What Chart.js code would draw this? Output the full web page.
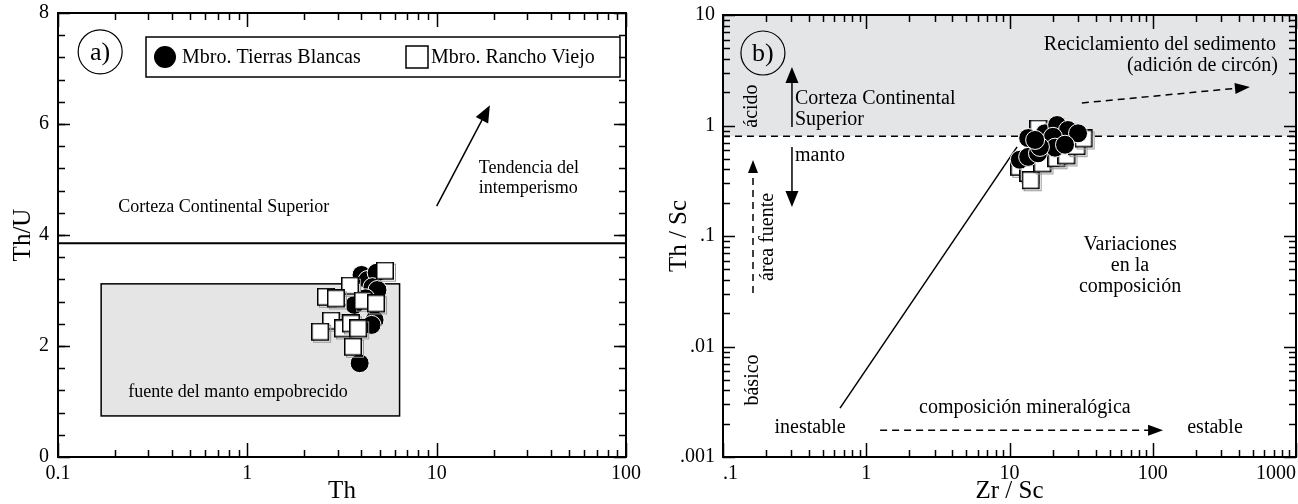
<!DOCTYPE html>
<html>
<head>
<meta charset="utf-8">
<script src="https://cdn.jsdelivr.net/npm/chart.js@4.4.1/dist/chart.umd.min.js"></script>
<style>
  html, body { margin: 0; padding: 0; background: #fff; overflow: hidden; }
  #wrap { position: relative; width: 1298px; height: 504px; }
  .panel { position: absolute; top: 0; }
  .panel canvas { display: block; }
  #pa { left: 0; }
  #pb { left: 650px; }
</style>
</head>
<body>
<div id="wrap">
  <div class="panel" id="pa"><canvas id="chartA" width="650" height="504"></canvas></div>
  <div class="panel" id="pb"><canvas id="chartB" width="648" height="504"></canvas></div>
</div>
<script>
// Chart.js comes from the CDN as a UMD global, referenced as `Chart`.
const SERIF = '"Liberation Serif", "DejaVu Serif", serif';

// ---- panel a) Th vs Th/U ----
const thTierras  = [4.01, 4.32, 4.82, 4.58, 4.87, 3.68, 4.21, 4.70, 4.53, 3.92];
const thuTierras = [3.28, 3.19, 3.32, 3.06, 3.01, 2.74, 2.86, 2.47, 2.38, 1.69];
const thRancho   = [5.43, 3.55, 2.65, 2.99, 4.16, 4.87, 2.82, 2.47, 3.26, 3.59, 3.92, 3.68];
const thuRancho  = [3.33, 3.06, 2.86, 2.83, 2.79, 2.74, 2.43, 2.23, 2.29, 2.38, 2.29, 1.96];
const thTicks    = [0.1, 1, 10, 100];
const thLabels   = ['0.1', '1', '10', '100'];
const thuTicks   = [0, 2, 4, 6, 8];
const thuLabels  = ['0', '2', '4', '6', '8'];
const uccThU     = 3.85;                       // Corteza Continental Superior
const mantleTh   = [0.169, 6.37];              // fuente del manto empobrecido
const mantleThU  = [0.74, 3.12];
const weatherTh  = [10.0, 19.1];               // tendencia del intemperismo
const weatherThU = [4.52, 6.34];

// ---- panel b) Zr/Sc vs Th/Sc ----
const zrTierras   = [13.5, 11.8, 13.5, 15.8, 17.7, 21.5, 25.6, 30.1, 20.1, 20.8, 24.4, 16.3, 15.1];
const thscTierras = [0.77, 0.49, 0.52, 0.56, 0.85, 1.01, 0.91, 0.85, 0.79, 0.63, 0.67, 0.64, 0.74];
const zrRancho    = [12.0, 13.9, 14.4, 17.4, 21.8, 25.6, 30.1, 33.7, 16.3];
const thscRancho  = [0.41, 0.36, 0.31, 0.44, 0.49, 0.52, 0.63, 0.74, 0.91];
const zrTicks     = [0.1, 1, 10, 100, 1000];
const zrLabels    = ['.1', '1', '10', '100', '1000'];
const thscTicks   = [0.001, 0.01, 0.1, 1, 10];
const thscLabels  = ['.001', '.01', '.1', '1', '10'];
const uccThSc     = 0.8;
const mixZr       = [0.656, 11.3];             // trend line from basic source
const mixThSc     = [0.00277, 0.64];

// minor ticks for log axes: 2..9 of each decade
function logMinors(majors) {
  const out = [];
  for (let i = 0; i < majors.length - 1; i++)
    for (let k = 2; k <= 9; k++) out.push(majors[i] * k);
  return out;
}
function linMinors(min, max, step) {
  const out = [];
  for (let v = min + step; v < max; v += step) out.push(+v.toFixed(4));
  return out;
}

function label(ctx, text, x, y, size = 18, align = 'left', rot = 0) {
  ctx.save();
  ctx.translate(x, y);
  if (rot) ctx.rotate(rot);
  ctx.font = `${size}px ${SERIF}`;
  ctx.textAlign = align;
  ctx.textBaseline = 'middle';
  ctx.fillStyle = '#000';
  ctx.fillText(text, 0, 0);
  ctx.restore();
}

function arrow(ctx, x0, y0, x1, y1, dashed, head = 15, w = 5.5) {
  const ang = Math.atan2(y1 - y0, x1 - x0);
  const bx = x1 - head * Math.cos(ang), by = y1 - head * Math.sin(ang);
  ctx.save();
  ctx.strokeStyle = '#000';
  ctx.fillStyle = '#000';
  ctx.lineWidth = 1.5;
  if (dashed) ctx.setLineDash([7, 5]);
  ctx.beginPath(); ctx.moveTo(x0, y0); ctx.lineTo(bx, by); ctx.stroke();
  ctx.setLineDash([]);
  ctx.beginPath();
  ctx.moveTo(x1, y1);
  ctx.lineTo(bx + w * Math.sin(ang), by - w * Math.cos(ang));
  ctx.lineTo(bx - w * Math.sin(ang), by + w * Math.cos(ang));
  ctx.closePath(); ctx.fill();
  ctx.restore();
}

function circledTag(ctx, text, cx, cy) {
  ctx.save();
  ctx.strokeStyle = '#000';
  ctx.lineWidth = 1.2;
  ctx.beginPath(); ctx.arc(cx, cy, 22, 0, Math.PI * 2); ctx.stroke();
  ctx.restore();
  label(ctx, text, cx, cy + 1, 26, 'center');
}

// open square marker with the faint grey offset edge seen in the original
function squareMarker(side) {
  const c = document.createElement('canvas');
  c.width = c.height = side + 3;
  const g = c.getContext('2d');
  g.strokeStyle = '#9a9a9a';
  g.lineWidth = 1;
  g.strokeRect(2.5, 2.5, side - 1, side - 1);
  g.fillStyle = '#fff';
  g.fillRect(0.75, 0.75, side - 1.5, side - 1.5);
  g.strokeStyle = '#000';
  g.lineWidth = 1.5;
  g.strokeRect(0.75, 0.75, side - 1.5, side - 1.5);
  return c;
}

// inward ticks on all four sides + frame
const framePlugin = {
  id: 'frame',
  afterDraw(chart, args, opts) {
    const { ctx, chartArea: a, scales: { x, y } } = chart;
    ctx.save();
    ctx.strokeStyle = '#000';
    ctx.lineWidth = 1.5;
    const xt = (v, len) => {
      const p = Math.round(x.getPixelForValue(v)) + 0.5;
      ctx.beginPath();
      ctx.moveTo(p, a.bottom); ctx.lineTo(p, a.bottom - len);
      ctx.moveTo(p, a.top); ctx.lineTo(p, a.top + len);
      ctx.stroke();
    };
    const yt = (v, len) => {
      const p = Math.round(y.getPixelForValue(v)) + 0.5;
      ctx.beginPath();
      ctx.moveTo(a.left, p); ctx.lineTo(a.left + len, p);
      ctx.moveTo(a.right, p); ctx.lineTo(a.right - len, p);
      ctx.stroke();
    };
    opts.xMajor.forEach(v => xt(v, 14));
    opts.xMinor.forEach(v => xt(v, 7));
    opts.yMajor.forEach(v => yt(v, 12));
    opts.yMinor.forEach(v => yt(v, 7));
    ctx.lineWidth = 2;
    ctx.strokeRect(a.left, a.top, a.right - a.left, a.bottom - a.top);
    ctx.restore();
  }
};

function axis(type, min, max, vals, labels, title, o) {
  return {
    type, min, max,
    grid: { display: false, drawTicks: false },
    border: { display: false },
    afterBuildTicks: s => { s.ticks = vals.map(v => ({ value: v })); },
    afterFit: s => {
      // fixed box sizes so the plot area lands where the original has it
      if (s.isHorizontal()) s.height = o.size; else s.width = o.size;
      s.paddingLeft = s.paddingRight = s.paddingTop = s.paddingBottom = 0;
    },
    ticks: {
      color: '#000', padding: o.tickPad, align: o.align || 'center',
      autoSkip: false, maxRotation: 0,
      font: { family: SERIF, size: 20 },
      callback: (v, i) => labels[i]
    },
    title: {
      display: true, text: title, color: '#000',
      padding: { top: o.titlePad, bottom: 0 },
      font: { family: SERIF, size: 25, lineHeight: 1 }
    }
  };
}

function points(xs, ys) { return xs.map((v, i) => ({ x: v, y: ys[i] })); }

const circleStyle = {
  pointStyle: 'circle', pointRadius: 9.5, pointBackgroundColor: '#000',
  pointBorderColor: '#fff', pointBorderWidth: 1, showLine: false
};
const squareStyle = {
  pointStyle: squareMarker(18), pointRadius: 9, showLine: false
};

// ---------- panel a ----------
const panelA = {
  id: 'panelA',
  beforeDatasetsDraw(chart) {
    const { ctx, chartArea: a, scales: { x, y } } = chart;
    const bx0 = x.getPixelForValue(mantleTh[0]), bx1 = x.getPixelForValue(mantleTh[1]);
    const by0 = y.getPixelForValue(mantleThU[0]), by1 = y.getPixelForValue(mantleThU[1]);
    ctx.save();
    ctx.fillStyle = '#e5e5e5';
    ctx.fillRect(bx0, by1, bx1 - bx0, by0 - by1);
    ctx.strokeStyle = '#000';
    ctx.lineWidth = 1.5;
    ctx.strokeRect(bx0, by1, bx1 - bx0, by0 - by1);
    const ly = y.getPixelForValue(uccThU);
    ctx.lineWidth = 2;
    ctx.beginPath(); ctx.moveTo(a.left, ly); ctx.lineTo(a.right, ly); ctx.stroke();
    ctx.restore();
    arrow(ctx, x.getPixelForValue(weatherTh[0]), y.getPixelForValue(weatherThU[0]),
               x.getPixelForValue(weatherTh[1]), y.getPixelForValue(weatherThU[1]), false, 17, 7);
    label(ctx, 'Corteza Continental Superior', x.getPixelForValue(0.208), y.getPixelForValue(4.50), 18);
    label(ctx, 'fuente del manto empobrecido', x.getPixelForValue(0.235), y.getPixelForValue(1.17), 18);
    label(ctx, 'Tendencia del', x.getPixelForValue(16.7), y.getPixelForValue(5.21), 18);
    label(ctx, 'intemperismo', x.getPixelForValue(16.7), y.getPixelForValue(4.85), 18);
  },
  afterDraw(chart) {
    const { ctx, chartArea: a, scales: { x, y } } = chart;
    circledTag(ctx, 'a)', x.getPixelForValue(0.167), y.getPixelForValue(7.30));
    // legend box
    const lx = a.left + 88, ly = a.top + 24, lw = a.right - 6 - lx, lh = 40;
    ctx.save();
    ctx.fillStyle = '#fff';
    ctx.fillRect(lx, ly, lw, lh);
    ctx.strokeStyle = '#000';
    ctx.lineWidth = 1.5;
    ctx.strokeRect(lx, ly, lw, lh);
    ctx.fillStyle = '#000';
    ctx.beginPath(); ctx.arc(lx + 19, ly + 20, 11, 0, Math.PI * 2); ctx.fill();
    ctx.fillStyle = '#fff';
    ctx.fillRect(lx + 260, ly + 9, 22, 22);
    ctx.strokeRect(lx + 260, ly + 9, 22, 22);
    ctx.restore();
    label(ctx, 'Mbro. Tierras Blancas', lx + 36, ly + 21, 20);
    label(ctx, 'Mbro. Rancho Viejo', lx + 285, ly + 21, 20);
  }
};

new Chart(document.getElementById('chartA'), {
  type: 'scatter',
  data: {
    datasets: [
      { label: 'Mbro. Tierras Blancas', data: points(thTierras, thuTierras), order: 2, ...circleStyle },
      { label: 'Mbro. Rancho Viejo', data: points(thRancho, thuRancho), order: 1, ...squareStyle }
    ]
  },
  options: {
    responsive: false,
    animation: false,
    layout: { autoPadding: false, padding: { left: 0, right: 24, top: 13, bottom: 0 } },
    plugins: {
      legend: { display: false },
      tooltip: { enabled: false },
      frame: {
        xMajor: thTicks, xMinor: logMinors(thTicks),
        yMajor: thuTicks, yMinor: linMinors(0, 8, 0.4)
      }
    },
    scales: {
      x: axis('logarithmic', 0.1, 100, thTicks, thLabels, 'Th', { size: 47, tickPad: 5, titlePad: 0 }),
      y: axis('linear', 0, 8, thuTicks, thuLabels, 'Th/U', { size: 58, tickPad: 9, titlePad: 11, align: 'inner' })
    }
  },
  plugins: [panelA, framePlugin]
});

// ---------- panel b ----------
const panelB = {
  id: 'panelB',
  beforeDatasetsDraw(chart) {
    const { ctx, chartArea: a, scales: { x, y } } = chart;
    const ly = y.getPixelForValue(uccThSc);
    ctx.save();
    ctx.fillStyle = '#e4e5e7';
    ctx.fillRect(a.left, a.top, a.right - a.left, ly - a.top);
    ctx.strokeStyle = '#000';
    ctx.lineWidth = 1.5;
    ctx.setLineDash([7, 5]);
    ctx.beginPath(); ctx.moveTo(a.left, ly); ctx.lineTo(a.right, ly); ctx.stroke();
    ctx.setLineDash([]);
    ctx.beginPath();
    ctx.moveTo(x.getPixelForValue(mixZr[0]), y.getPixelForValue(mixThSc[0]));
    ctx.lineTo(x.getPixelForValue(mixZr[1]), y.getPixelForValue(mixThSc[1]));
    ctx.stroke();
    ctx.restore();
    const X = v => x.getPixelForValue(v), Y = v => y.getPixelForValue(v);
    arrow(ctx, X(0.303), Y(0.97), X(0.303), Y(3.38), false, 16, 6.5);
    arrow(ctx, X(0.303), Y(0.64), X(0.303), Y(0.183), false, 16, 6.5);
    arrow(ctx, X(0.162), Y(0.0305), X(0.162), Y(0.487), true, 13, 5);
    arrow(ctx, X(32), Y(1.6), X(477), Y(2.23), true, 15, 5.5);
    arrow(ctx, X(1.25), Y(0.00175), X(118), Y(0.00175), true, 15, 5.5);
  },
  afterDraw(chart) {
    const { ctx, scales: { x, y } } = chart;
    const X = v => x.getPixelForValue(v), Y = v => y.getPixelForValue(v);
    circledTag(ctx, 'b)', X(0.190), Y(4.53));
    label(ctx, 'ácido', X(0.159), Y(1.50), 20, 'center', -Math.PI / 2);
    label(ctx, 'área fuente', X(0.206), Y(0.098), 20, 'center', -Math.PI / 2);
    label(ctx, 'básico', X(0.162), Y(0.00498), 20, 'center', -Math.PI / 2);
    label(ctx, 'Corteza Continental', X(0.318), Y(1.74), 20);
    label(ctx, 'Superior', X(0.318), Y(1.12), 20);
    label(ctx, 'manto', X(0.318), Y(0.53), 20);
    label(ctx, 'Reciclamiento del sedimento', X(725), Y(5.35), 20, 'right');
    label(ctx, '(adición de circón)', X(748), Y(3.46), 20, 'right');
    label(ctx, 'Variaciones', X(69.4), Y(0.0829), 20, 'center');
    label(ctx, 'en la', X(69.4), Y(0.0535), 20, 'center');
    label(ctx, 'composición', X(69.4), Y(0.0346), 20, 'center');
    label(ctx, 'composición mineralógica', X(12.8), Y(0.00278), 20, 'center');
    label(ctx, 'inestable', X(0.405), Y(0.00183), 20, 'center');
    label(ctx, 'estable', X(272), Y(0.00183), 20, 'center');
  }
};

new Chart(document.getElementById('chartB'), {
  type: 'scatter',
  data: {
    datasets: [
      { label: 'Mbro. Tierras Blancas', data: points(zrTierras, thscTierras), order: 1, ...circleStyle },
      { label: 'Mbro. Rancho Viejo', data: points(zrRancho, thscRancho), order: 2, ...squareStyle }
    ]
  },
  options: {
    responsive: false,
    animation: false,
    layout: { autoPadding: false, padding: { left: 0, right: 2, top: 15, bottom: 0 } },
    plugins: {
      legend: { display: false },
      tooltip: { enabled: false },
      frame: {
        xMajor: zrTicks, xMinor: logMinors(zrTicks),
        yMajor: thscTicks, yMinor: logMinors(thscTicks)
      }
    },
    scales: {
      x: axis('logarithmic', 0.1, 1000, zrTicks, zrLabels, 'Zr / Sc', { size: 47, tickPad: 5, titlePad: 0, align: 'inner' }),
      y: axis('logarithmic', 0.001, 10, thscTicks, thscLabels, 'Th / Sc', { size: 73, tickPad: 8, titlePad: 17, align: 'inner' })
    }
  },
  plugins: [panelB, framePlugin]
});
</script>
</body>
</html>
